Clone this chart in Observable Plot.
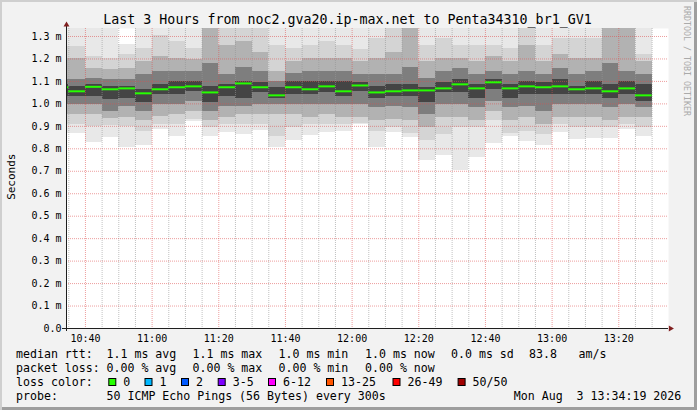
<!DOCTYPE html>
<html><head><meta charset="utf-8">
<script src="https://cdn.jsdelivr.net/npm/d3@7"></script>
<script src="https://cdn.jsdelivr.net/npm/@observablehq/plot@0.6"></script>
<style>
html,body{margin:0;padding:0;background:#fff;}
#wrap{position:relative;width:697px;height:410px;background:#f2f2f2;box-shadow:inset 2px 2px 0 #cfcfcf, inset -3px -3px 0 #9e9e9e;overflow:hidden;}
#wrap svg{position:absolute;left:0;top:0;}
</style></head><body><div id="wrap"></div>
<script>
// ---------- data ----------
const day = "2026-08-03";
const rangeStart = "10:34:19";
const rangeEnd = "13:34:55";
const stepMinutes = 5;
const colStarts = ["10:30","10:35","10:40","10:45","10:50","10:55","11:00","11:05","11:10","11:15","11:20","11:25",
  "11:30","11:35","11:40","11:45","11:50","11:55","12:00","12:05","12:10","12:15","12:20","12:25",
  "12:30","12:35","12:40","12:45","12:50","12:55","13:00","13:05","13:10","13:15","13:20","13:25"];
// median rtt (ms)
const median = [1.074,1.056,1.076,1.065,1.069,1.047,1.065,1.074,1.078,1.051,1.074,1.091,1.074,1.038,1.074,1.065,1.078,1.056,
  1.082,1.051,1.056,1.060,1.060,1.069,1.087,1.069,1.096,1.069,1.078,1.074,1.078,1.065,1.069,1.056,1.069,1.038];
// smoke: sorted ping quantile bands (ms), outermost to innermost
const pingMin = [0.866,0.866,0.828,0.850,0.805,0.815,0.884,0.857,0.922,0.853,0.873,0.864,0.882,0.805,0.837,0.859,0.873,0.878,
  0.906,0.805,0.873,0.850,0.748,0.770,0.703,0.763,0.825,0.855,0.834,0.816,0.874,0.843,0.847,0.847,0.887,0.856];
const lo2 = [0.909,0.909,0.901,0.905,0.901,0.879,0.909,0.909,0.930,0.894,0.909,0.909,0.909,0.857,0.894,0.909,0.909,0.909,
  0.912,0.879,0.894,0.870,0.835,0.865,0.894,0.894,0.924,0.870,0.879,0.865,0.909,0.894,0.894,0.894,0.909,0.894];
const lo3 = [0.953,0.953,0.953,0.935,0.938,0.924,0.946,0.953,0.968,0.924,0.938,0.953,0.953,0.953,0.953,0.938,0.953,0.938,
  0.938,0.924,0.931,0.924,0.894,0.938,0.938,0.924,0.968,0.924,0.938,0.909,0.938,0.938,0.938,0.924,0.938,0.938];
const lo4 = [0.997,0.997,0.997,0.968,0.990,0.968,0.997,0.997,1.012,0.968,0.990,0.990,0.997,0.997,0.997,0.997,0.997,0.997,
  0.997,0.982,0.990,0.982,0.953,0.997,0.997,0.982,1.012,0.982,0.990,0.968,0.997,0.997,0.997,0.982,0.997,0.982];
const lo5 = [1.034,1.034,1.034,1.019,1.026,1.004,1.041,1.041,1.056,1.004,1.034,1.026,1.049,1.022,1.041,1.041,1.049,1.034,
  1.056,1.026,1.034,1.034,1.004,1.049,1.049,1.026,1.063,1.026,1.041,1.041,1.041,1.041,1.041,1.026,1.041,1.012];
const hi5 = [1.085,1.078,1.085,1.078,1.078,1.063,1.085,1.100,1.100,1.078,1.085,1.100,1.093,1.071,1.100,1.100,1.100,1.100,
  1.093,1.078,1.085,1.085,1.071,1.093,1.107,1.085,1.107,1.085,1.100,1.093,1.107,1.078,1.100,1.085,1.100,1.085];
const hi4 = [1.107,1.107,1.115,1.107,1.107,1.129,1.144,1.144,1.144,1.180,1.129,1.160,1.144,1.100,1.137,1.144,1.144,1.144,
  1.129,1.129,1.129,1.160,1.115,1.144,1.159,1.129,1.144,1.129,1.144,1.129,1.159,1.129,1.144,1.180,1.144,1.129];
const hi3 = [1.203,1.203,1.159,1.151,1.159,1.188,1.210,1.203,1.196,1.400,1.262,1.276,1.230,1.144,1.188,1.203,1.203,1.203,
  1.188,1.203,1.230,1.400,1.188,1.203,1.203,1.188,1.210,1.188,1.262,1.188,1.218,1.203,1.203,1.400,1.350,1.188];
const hi2 = [1.254,1.254,1.210,1.203,1.218,1.247,1.306,1.276,1.247,1.400,1.400,1.400,1.400,1.260,1.247,1.262,1.276,1.262,
  1.240,1.291,1.400,1.400,1.262,1.291,1.262,1.262,1.262,1.247,1.400,1.262,1.291,1.291,1.291,1.400,1.400,1.218];
const pingMax = [1.40,1.40,1.40,1.40,1.266,1.40,1.40,1.40,1.40,1.40,1.40,1.40,1.40,1.40,1.40,1.40,1.40,1.40,
  1.40,1.40,1.40,1.40,1.40,1.40,1.40,1.40,1.40,1.40,1.40,1.40,1.40,1.40,1.40,1.40,1.40,1.40];

const xTickLabels = ["10:40","11:00","11:20","11:40","12:00","12:20","12:40","13:00","13:20"];
const yTickValues = [0,0.1,0.2,0.3,0.4,0.5,0.6,0.7,0.8,0.9,1.0,1.1,1.2,1.3];
const yTickLabels = ["0.0","0.1 m","0.2 m","0.3 m","0.4 m","0.5 m","0.6 m","0.7 m","0.8 m","0.9 m","1.0 m","1.1 m","1.2 m","1.3 m"];
const yTop = 1.3356;

const legendStats = [
  ["median rtt:", "1.1 ms avg", "1.1 ms max", "1.0 ms min", "1.0 ms now", "0.0 ms sd", "83.8", "am/s"],
  ["packet loss:", "0.00 % avg", "0.00 % max", "0.00 % min", "0.00 % now"]
];
const lossLabels = ["0","1","2","3-5","6-12","13-25","26-49","50/50"];
const lossColors = ["#26ff00","#00b8ff","#0059ff","#7e00ff","#ff00ff","#ff5500","#ff0000","#a10000"];
const probeText = "50 ICMP Echo Pings (56 Bytes) every 300s";
const dateText = "Mon Aug  3 13:34:19 2026";
const titleText = "Last 3 Hours from noc2.gva20.ip-max.net to Penta34310_br1_GV1";

// ---------- build ----------
const T = s => new Date(`${day}T${s.length === 5 ? s + ":00" : s}Z`);
const stepMs = stepMinutes * 60000;
const cols = colStarts.map((s, i) => ({x1: T(s), x2: new Date(+T(s) + stepMs), i}));
const xTicks = xTickLabels.map(T);
const minorTimes = cols.map(c => c.x2);
const fmtX = d => { const k = xTicks.findIndex(t => +t === +d); return k >= 0 ? xTickLabels[k] : ""; };
const fmtY = d => { const k = yTickValues.findIndex(t => Math.abs(t - d) < 1e-9); return k >= 0 ? yTickLabels[k] : ""; };

const levels = [
  [pingMin, pingMax, "#e8e8e8"],
  [lo2, hi2, "#d4d4d4"],
  [lo3, hi3, "#b2b2b2"],
  [lo4, hi4, "#7e7e7e"],
  [lo5, hi5, "#444444"]
];
const smokeMarks = levels.map(([lo, hi, fill]) =>
  Plot.rect(cols, {x1: "x1", x2: "x2", y1: d => lo[d.i], y2: d => hi[d.i], fill, clip: true, shapeRendering: "crispEdges"}));

const redGrid = "rgba(222,79,79,0.55)";
const grayGrid = "rgba(150,150,150,0.6)";

const chart = Plot.plot({
  width: 697, height: 410,
  marginLeft: 66, marginRight: 29, marginTop: 28, marginBottom: 82,
  style: {background: "transparent", fontFamily: "'DejaVu Sans Mono', monospace", fontSize: "10px", color: "#000", overflow: "visible"},
  x: {type: "utc", domain: [T(rangeStart), T(rangeEnd)], ticks: xTicks, tickFormat: fmtX, tickSize: 0, tickPadding: 6, label: null},
  y: {domain: [0, yTop], ticks: yTickValues, tickFormat: fmtY, tickSize: 0, tickPadding: 5, label: null},
  marks: [
    Plot.frame({fill: "#ffffff", stroke: "none"}),
    ...smokeMarks,
    Plot.ruleX(minorTimes.filter(t => !xTicks.some(m => +m === +t)), {x: d => d, stroke: grayGrid, strokeDasharray: "1,1", clip: true}),
    Plot.ruleX(xTicks, {x: d => d, stroke: redGrid, strokeDasharray: "1,1"}),
    Plot.ruleY(yTickValues.filter(v => v > 0), {y: d => d, stroke: redGrid, strokeDasharray: "1,1"}),
    Plot.ruleY(cols, {x1: "x1", x2: "x2", y: d => median[d.i], stroke: "#26ff00", strokeWidth: 2, clip: true}),
    Plot.ruleY([0], {y: d => d, stroke: "#1f1f1f", insetLeft: -4}),
    Plot.ruleX([T(rangeStart)], {x: d => d, stroke: "#1f1f1f", insetBottom: -3, insetTop: -2}),
    Plot.dot([{x: T(rangeStart), y: yTop}], {x: "x", y: "y", symbol: "triangle", r: 2.2, fill: "#801f1f", dy: -3.6}),
    Plot.dot([{x: T(rangeEnd), y: 0}], {x: "x", y: "y", symbol: "triangle", r: 2.2, fill: "#801f1f", rotate: 90, dx: 2})
  ]
});

const wrap = document.getElementById("wrap");
wrap.appendChild(chart);

// ---------- texts (title, axis label, legend) ----------
const ov = d3.select(wrap).append("svg").attr("width", 697).attr("height", 410)
  .style("font-family", "'DejaVu Sans Mono', monospace").style("fill", "#000");
function txt(x, y, s, size, anchor = "start") {
  return ov.append("text").attr("x", x).attr("y", y).attr("font-size", size)
    .attr("text-anchor", anchor).style("white-space", "pre").text(s);
}
txt(347.5, 23.7, titleText, 13.3, "middle");
ov.append("text").attr("transform", "translate(15,176.7) rotate(-90)").attr("font-size", 11)
  .attr("text-anchor", "middle").text("Seconds");
ov.append("text").attr("transform", "translate(684,6) rotate(90)").attr("font-size", 8.3)
  .attr("fill", "#aaaaaa").style("white-space", "pre").text("RRDTOOL / TOBI OETIKER");

const LF = 11.6;
const statX = [16, 106.5, 192.5, 278.5, 365, 451, 529, 578.6];
const baseY = [357.7, 371.7, 385.7, 399.7];
legendStats.forEach((row, r) => row.forEach((s, k) => txt(statX[k], baseY[r], s, LF)));
txt(16, baseY[2], "loss color:", LF);
const lossLabelX = [123.3, 159.5, 196, 232.7, 283, 341, 407.5, 472.6];
lossLabels.forEach((s, k) => {
  const bx = lossLabelX[k] - 15;
  ov.append("rect").attr("x", bx + 0.5).attr("y", 378.5).attr("width", 7).attr("height", 7)
    .attr("fill", lossColors[k]).attr("stroke", "#000").attr("stroke-width", 1);
  txt(lossLabelX[k], baseY[2], s, LF);
});
txt(16, baseY[3], "probe:", LF);
txt(106.5, baseY[3], probeText, LF);
txt(681.3, baseY[3], dateText, LF, "end");
</script></body></html>
